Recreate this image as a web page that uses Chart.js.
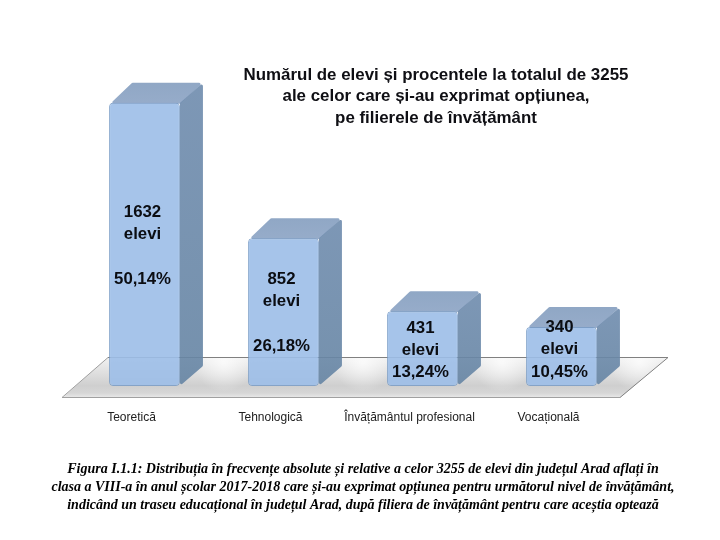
<!DOCTYPE html>
<html lang="ro">
<head>
<meta charset="utf-8">
<title>Numărul de elevi pe filiere</title>
<script src="https://cdn.jsdelivr.net/npm/chart.js@4"></script>
<style>html,body{margin:0;padding:0;background:#fff}canvas{display:block}</style>
</head>
<body>
<canvas id="c" width="720" height="540"></canvas>
<script>
const categories = ["Teoretică", "Tehnologică", "Învățământul profesional", "Vocațională"];
const studentCounts = [1632, 852, 431, 340];
const percentLabels = ["50,14%", "26,18%", "13,24%", "10,45%"];
const unitLabel = "elevi";
const titleLines = [
  "Numărul de elevi și procentele la totalul de 3255",
  "ale celor care și-au exprimat opțiunea,",
  "pe filierele de învățământ"
];
const captionLines = [
  "Figura I.1.1: Distribuția în frecvențe absolute și relative a celor 3255 de elevi din județul Arad aflați în",
  "clasa a VIII-a în anul școlar 2017-2018 care și-au exprimat opțiunea pentru următorul nivel de învățământ,",
  "indicând un traseu educațional în județul Arad, după filiera de învățământ pentru care aceștia optează"
];

const DEPTH_X = 23, DEPTH_Y = 20;
const labelLineOffsets = [[110,132,177],[41,63,108],[17,39,61],[0,22,45]];

function roundedPoly(ctx, pts, r){
  ctx.beginPath();
  const n = pts.length;
  ctx.moveTo((pts[n-1][0]+pts[0][0])/2,(pts[n-1][1]+pts[0][1])/2);
  for(let i=0;i<n;i++){
    const p=pts[i],q=pts[(i+1)%n];
    ctx.arcTo(p[0],p[1],(p[0]+q[0])/2,(p[1]+q[1])/2,r);
  }
  ctx.closePath();
}

const scene3d = {
  id:"scene3d",
  beforeDatasetsDraw(chart){
    const ctx = chart.ctx, base = chart.scales.y.getPixelForValue(0);
    const bars = chart.getDatasetMeta(0).data;
    const backY = base-29, frontY = base+12;
    ctx.save();
    const g = ctx.createLinearGradient(0,backY,0,frontY);
    g.addColorStop(0,"#f2f2f2"); g.addColorStop(.7,"#cfcfcf"); g.addColorStop(.88,"#d6d6d6"); g.addColorStop(1,"#ebebeb");
    ctx.beginPath();
    ctx.moveTo(108,backY); ctx.lineTo(668,backY); ctx.lineTo(620,frontY); ctx.lineTo(62,frontY); ctx.closePath();
    ctx.fillStyle=g; ctx.fill();
    ctx.clip();
    bars.forEach((b,i)=>{
      const mid = i===bars.length-1 ? b.x+78 : (b.x+bars[i+1].x)/2+10;
      const rg=ctx.createRadialGradient(mid,base-24,2,mid,base-24,30);
      rg.addColorStop(0,"rgba(255,255,255,.7)"); rg.addColorStop(1,"rgba(255,255,255,0)");
      ctx.fillStyle=rg; ctx.fillRect(mid-40,backY,80,frontY-backY);
    });
    ctx.restore();
    ctx.save();
    ctx.strokeStyle="#808080"; ctx.lineWidth=1;
    ctx.beginPath(); ctx.moveTo(108,backY+.5); ctx.lineTo(668,backY+.5); ctx.lineTo(620,frontY-.5); ctx.stroke();
    ctx.strokeStyle="#a0a0a0";
    ctx.beginPath(); ctx.moveTo(620,frontY-.5); ctx.lineTo(62,frontY-.5); ctx.lineTo(108,backY+.5); ctx.stroke();
    ctx.restore();
    bars.forEach(b=>{
      const l=b.x-b.width/2, r=b.x+b.width/2, t=b.y;
      ctx.save();
      ctx.globalAlpha=.9;
      const top=ctx.createLinearGradient(0,t-DEPTH_Y,0,t);
      top.addColorStop(0,"#849ebf"); top.addColorStop(1,"#8ba3c4");
      roundedPoly(ctx,[[l+1,t+1],[l+DEPTH_X,t-DEPTH_Y],[r+DEPTH_X,t-DEPTH_Y],[r,t+1]],1.5);
      ctx.fillStyle=top; ctx.fill();
      const s=ctx.createLinearGradient(0,t-DEPTH_Y,0,base);
      s.addColorStop(0,"#6f8cae"); s.addColorStop(1,"#6685a4");
      roundedPoly(ctx,[[r,t],[r+DEPTH_X,t-DEPTH_Y],[r+DEPTH_X,base-DEPTH_Y],[r,base]],1.5);
      ctx.fillStyle=s; ctx.fill();
      ctx.restore();
    });
  },
  afterDatasetsDraw(chart){
    const ctx = chart.ctx;
    const bars = chart.getDatasetMeta(0).data;
    ctx.save();
    ctx.textAlign="center"; ctx.textBaseline="middle";
    ctx.fillStyle="#0b0d12";
    ctx.font='bold 16.8px "Liberation Sans", Arial, sans-serif';
    bars.forEach((b,i)=>{
      const texts=[String(studentCounts[i]),unitLabel,percentLabels[i]];
      texts.forEach((t,k)=>ctx.fillText(t,b.x-2,b.y+labelLineOffsets[i][k]));
    });
    ctx.fillStyle="#0f0f14";
    ctx.font='bold 16.9px "Liberation Sans", Arial, sans-serif';
    titleLines.forEach((t,i)=>ctx.fillText(t,436,75+i*21.5));
    ctx.fillStyle="#000";
    ctx.font='italic bold 14px "Liberation Serif", "Times New Roman", serif';
    captionLines.forEach((t,i)=>ctx.fillText(t,363,469+i*18));
    ctx.restore();
  }
};

new Chart(document.getElementById("c"),{
  type:"bar",
  data:{
    labels:categories,
    datasets:[{
      data:studentCounts,
      backgroundColor:"rgba(156,190,232,.9)",
      borderColor:"rgba(120,155,198,.85)",
      borderWidth:1,
      borderRadius:4,
      borderSkipped:false,
      barPercentage:.51,
      categoryPercentage:1
    }]
  },
  options:{
    responsive:false,
    animation:false,
    layout:{padding:{left:75,right:89,top:39,bottom:114}},
    plugins:{legend:{display:false},tooltip:{enabled:false},title:{display:false}},
    scales:{
      x:{
        grid:{display:false,drawTicks:false},
        border:{display:false},
        afterFit(s){s.height=40;},
        ticks:{
          autoSkip:false,maxRotation:0,minRotation:0,
          labelOffset:-13,padding:24,color:"#222",
          font:{family:'"Liberation Sans", Arial, sans-serif',size:12}
        }
      },
      y:{display:false,min:0,max:2000}
    }
  },
  plugins:[scene3d]
});
</script>
</body>
</html>
